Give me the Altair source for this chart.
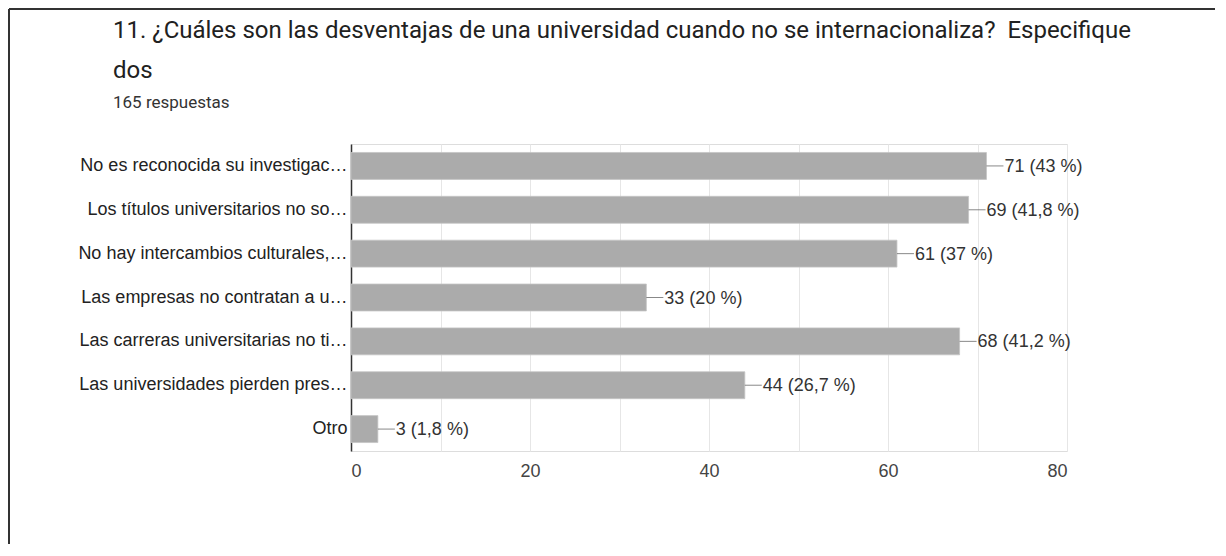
import altair as alt
import pandas as pd

categories = [
    "No es reconocida su investigac…",
    "Los títulos universitarios no so…",
    "No hay intercambios culturales,…",
    "Las empresas no contratan a u…",
    "Las carreras universitarias no ti…",
    "Las universidades pierden pres…",
    "Otro",
]
counts = [71, 69, 61, 33, 68, 44, 3]
percent_labels = ["43 %", "41,8 %", "37 %", "20 %", "41,2 %", "26,7 %", "1,8 %"]

title_lines = [
    "11. ¿Cuáles son las desventajas de una universidad cuando no se internacionaliza?\u00a0 Especifique",
    "dos",
]
subtitle = "165 respuestas"

df = pd.DataFrame({
    "cat": categories,
    "n": counts,
    "label": [f"{c} ({p})" for c, p in zip(counts, percent_labels)],
})

LABEL_FONT = "Liberation Sans"
FS = 18
W, H = 716, 307

y_enc = alt.Y("cat:N", sort=categories,
              scale=alt.Scale(paddingInner=0.386, paddingOuter=0.193),
              axis=alt.Axis(title=None, domainColor="#333333", domainWidth=1.5,
                            ticks=False, labelPadding=4, labelFontSize=FS,
                            labelFont=LABEL_FONT, labelColor="#222222",
                            labelLimit=400, grid=False))
x_enc = alt.X("n:Q", scale=alt.Scale(domain=[0, 80], nice=False),
              axis=alt.Axis(title=None, values=list(range(0, 81, 10)),
                            labelExpr="datum.value % 20 == 0 ? datum.label : ''",
                            grid=True, gridColor="#e6e6e6", domain=False,
                            ticks=False, labelPadding=11, labelFontSize=FS,
                            labelFont=LABEL_FONT, labelColor="#444444"))

bars = alt.Chart(df).mark_bar(color="#ababab", stroke="#c4c4c4", strokeWidth=0.8).encode(x=x_enc, y=y_enc)

leaders = alt.Chart(df).mark_tick(orient="horizontal", size=17, thickness=1,
                                  color="#555555", xOffset=8.5).encode(
    x="n:Q", y=alt.Y("cat:N", sort=categories))

texts = alt.Chart(df).mark_text(align="left", baseline="middle", dx=18, dy=1,
                                fontSize=FS, font=LABEL_FONT, color="#333333").encode(
    x="n:Q", y=alt.Y("cat:N", sort=categories), text="label:N")

frame_left = alt.Chart(df).mark_rule(color="#333333", strokeWidth=1.5).encode(
    x=alt.value(-342), y=alt.value(-135), y2=alt.value(400))
frame_top = alt.Chart(df).mark_rule(color="#333333", strokeWidth=1.5).encode(
    x=alt.value(-342), x2=alt.value(864), y=alt.value(-135))

chart = alt.layer(frame_left, frame_top, bars, leaders, texts).properties(
    width=W, height=H,
    padding={"left": 0, "top": 0, "right": 0, "bottom": 0},
    title=alt.TitleParams(
        text=title_lines, subtitle=subtitle, anchor="start", frame="group",
        dx=-238, dy=103, offset=0, font="Roboto", fontSize=24, fontWeight="normal",
        color="#212121", lineHeight=40, subtitleFont="Roboto",
        subtitleFontSize=17, subtitleColor="#333333", subtitlePadding=12,
    ),
).configure_view(stroke="#e6e6e6").configure(background="white")

chart.save("out.html", embed_options={"renderer": "svg", "actions": False})
